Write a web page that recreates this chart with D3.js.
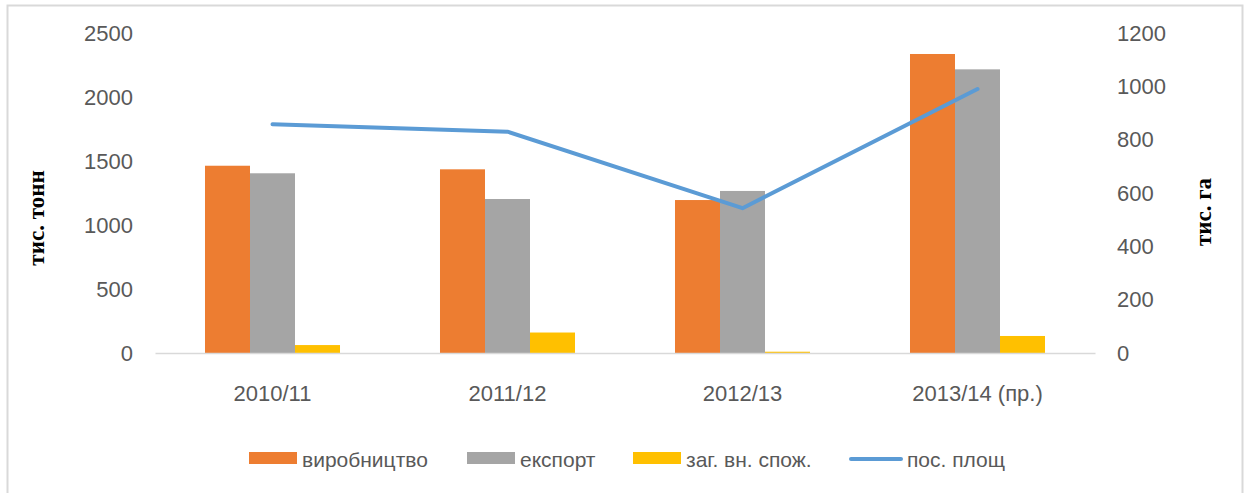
<!DOCTYPE html>
<html>
<head>
<meta charset="utf-8">
<script src="https://cdn.jsdelivr.net/npm/d3@7"></script>
<style>
  body { margin: 0; background: #fff; }
  svg { display: block; }
  .tick-lbl { font-family: "Liberation Sans", Arial, sans-serif; font-size: 22px; fill: #595959; }
  .legend-lbl { font-family: "Liberation Sans", Arial, sans-serif; font-size: 21px; fill: #595959; }
  .axis-title { font-family: "Liberation Serif", "Times New Roman", serif; font-size: 23px; font-weight: bold; fill: #000; }
</style>
</head>
<body>
<div id="chart"></div>
<script>
// data
const categories = ["2010/11", "2011/12", "2012/13", "2013/14 (пр.)"]
const production = [1463, 1435, 1195, 2336]   // виробництво, тис. тонн
const exports = [1404, 1203, 1266, 2216]      // експорт
const consumption = [62, 160, 10, 133]        // заг. вн. спож.
const area = [858, 830, 543, 990]             // пос. площ, тис. га
const leftTicks = [0, 500, 1000, 1500, 2000, 2500]
const rightTicks = [0, 200, 400, 600, 800, 1000, 1200]

const seriesNames = ["виробництво", "експорт", "заг. вн. спож."]
const seriesColors = ["#ED7D31", "#A5A5A5", "#FFC000"]
const lineName = "пос. площ"
const lineColor = "#5B9BD5"

const w = 1248
const h = 493
const plot = { left: 155, right: 1095, top: 33, bottom: 353 }

const svg = d3.select("#chart")
  .append("svg")
  .attr("width", w)
  .attr("height", h)

// chart border
svg.append("rect")
  .attr("x", 7.5)
  .attr("y", 5.5)
  .attr("width", 1235)
  .attr("height", 495)
  .attr("fill", "#fff")
  .attr("stroke", "#d9d9d9")
  .attr("stroke-width", 2)

// scales
const x0 = d3.scaleBand()
  .domain(categories)
  .range([plot.left, plot.right])
  .paddingInner(0.4255)
  .paddingOuter(0.4255 / 2)

const x1 = d3.scaleBand()
  .domain(seriesNames)
  .range([0, x0.bandwidth()])

const yLeft = d3.scaleLinear()
  .domain([0, 2500])
  .range([plot.bottom, plot.top])

const yRight = d3.scaleLinear()
  .domain([0, 1200])
  .range([plot.bottom, plot.top])

// bars
const rows = categories.map((c, i) => ({
  cat: c,
  vals: [production[i], exports[i], consumption[i]]
}))

const groups = svg.selectAll("g.grp")
  .data(rows)
  .enter()
  .append("g")
  .attr("class", "grp")
  .attr("transform", d => "translate(" + x0(d.cat) + ",0)")

groups.selectAll("rect")
  .data(d => d.vals.map((v, j) => ({ name: seriesNames[j], v: v, color: seriesColors[j] })))
  .enter()
  .append("rect")
  .attr("x", d => x1(d.name))
  .attr("y", d => yLeft(d.v))
  .attr("width", x1.bandwidth())
  .attr("height", d => yLeft(0) - yLeft(d.v))
  .attr("fill", d => d.color)

// category axis
const xAxis = d3.axisBottom(x0).tickSize(0).tickPadding(0)
const gx = svg.append("g")
  .attr("transform", "translate(0," + plot.bottom + ")")
  .call(xAxis)
gx.select(".domain").attr("stroke", "#d9d9d9").attr("stroke-width", 1.5)
gx.selectAll("text")
  .attr("class", "tick-lbl")
  .attr("y", 40)
  .attr("dy", "0.35em")

// left axis (labels only)
const gl = svg.append("g")
  .attr("transform", "translate(" + plot.left + ",0)")
  .call(d3.axisLeft(yLeft).tickValues(leftTicks).tickFormat(d3.format("d")).tickSize(0).tickPadding(22))
gl.select(".domain").remove()
gl.selectAll("text").attr("class", "tick-lbl")

// right axis (labels only)
const gr = svg.append("g")
  .attr("transform", "translate(" + plot.right + ",0)")
  .call(d3.axisRight(yRight).tickValues(rightTicks).tickFormat(d3.format("d")).tickSize(0).tickPadding(22))
gr.select(".domain").remove()
gr.selectAll("text").attr("class", "tick-lbl")

// line
const line = d3.line()
  .x((d, i) => x0(categories[i]) + x0.bandwidth() / 2)
  .y(d => yRight(d))

svg.append("path")
  .datum(area)
  .attr("d", line)
  .attr("fill", "none")
  .attr("stroke", lineColor)
  .attr("stroke-width", 4)
  .attr("stroke-linecap", "round")
  .attr("stroke-linejoin", "round")

// axis titles
svg.append("text")
  .attr("class", "axis-title")
  .attr("transform", "translate(44,218) rotate(-90)")
  .attr("text-anchor", "middle")
  .text("тис. тонн")

svg.append("text")
  .attr("class", "axis-title")
  .attr("transform", "translate(1211,212) rotate(-90)")
  .attr("text-anchor", "middle")
  .text("тис. га")

// legend
const legendItems = [
  { name: seriesNames[0], color: seriesColors[0], type: "rect", x: 249 },
  { name: seriesNames[1], color: seriesColors[1], type: "rect", x: 467 },
  { name: seriesNames[2], color: seriesColors[2], type: "rect", x: 633 },
  { name: lineName, color: lineColor, type: "line", x: 851 }
]

const legend = svg.selectAll("g.leg")
  .data(legendItems)
  .enter()
  .append("g")
  .attr("class", "leg")
  .attr("transform", d => "translate(" + d.x + ",0)")

legend.filter(d => d.type === "rect")
  .append("rect")
  .attr("x", 0)
  .attr("y", 452)
  .attr("width", 48)
  .attr("height", 12)
  .attr("fill", d => d.color)

legend.filter(d => d.type === "line")
  .append("line")
  .attr("x1", 0)
  .attr("x2", 50)
  .attr("y1", 459)
  .attr("y2", 459)
  .attr("stroke", d => d.color)
  .attr("stroke-width", 4)
  .attr("stroke-linecap", "round")

legend.append("text")
  .attr("class", "legend-lbl")
  .attr("x", d => d.type === "line" ? 56 : 53)
  .attr("y", 467)
  .text(d => d.name)
</script>
</body>
</html>
